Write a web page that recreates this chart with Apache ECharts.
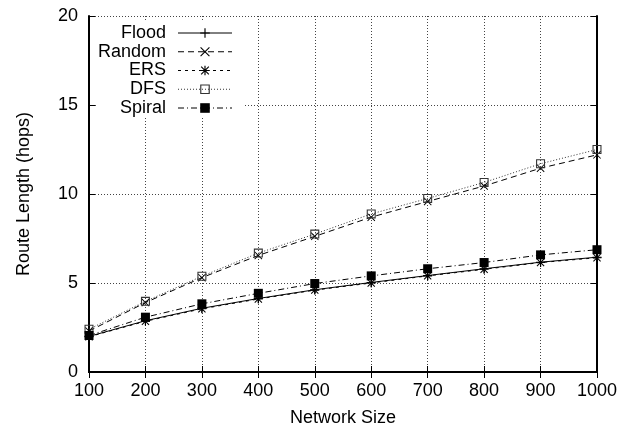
<!DOCTYPE html>
<html>
<head>
<meta charset="utf-8">
<script src="https://cdn.jsdelivr.net/npm/echarts@6/dist/echarts.min.js"></script>
<style>
  html, body { margin: 0; padding: 0; background: #fff; }
  #chart { width: 621px; height: 432px; }
</style>
</head>
<body>
<div id="chart"></div>
<script>
// Network sizes on the x axis
var networkSizes = [100, 200, 300, 400, 500, 600, 700, 800, 900, 1000];

// Average route length (hops) for each search strategy
var flood  = [2.00, 2.88, 3.58, 4.13, 4.62, 5.03, 5.42, 5.80, 6.17, 6.45];
var random = [2.30, 3.90, 5.30, 6.55, 7.62, 8.70, 9.58, 10.45, 11.45, 12.20];
var ers    = [1.98, 2.85, 3.55, 4.10, 4.60, 5.00, 5.40, 5.77, 6.15, 6.42];
var dfs    = [2.40, 3.97, 5.38, 6.68, 7.75, 8.88, 9.75, 10.65, 11.70, 12.50];
var spiral = [2.05, 3.08, 3.83, 4.42, 4.97, 5.40, 5.80, 6.15, 6.58, 6.87];

var seriesNames = ['Flood', 'Random', 'ERS', 'DFS', 'Spiral'];

function pairs(ys) {
  return networkSizes.map(function (x, i) { return [x, ys[i]]; });
}

// Point markers drawn as filled paths
var plusPath = 'path://M4.4,0H5.6V10H4.4ZM0,4.4H10V5.6H0Z';
var crossPath = 'path://M0,0.8L0.8,0L10,9.2L9.2,10ZM9.2,0L10,0.8L0.8,10L0,9.2Z';
var starPath = 'path://M4.4,0H5.6V10H4.4ZM0,4.4H10V5.6H0ZM0.6,1.4L1.4,0.6L9.4,8.6L8.6,9.4ZM8.6,0.6L9.4,1.4L1.4,9.4L0.6,8.6Z';
var boxPath = 'path://M0,0H10V10H0ZM1.2,1.2V8.8H8.8V1.2Z';

function lineSeries(name, data, dash, symbol, size, color) {
  return {
    name: name,
    type: 'line',
    data: pairs(data),
    symbol: symbol,
    symbolSize: size,
    showAllSymbol: true,
    animation: false,
    itemStyle: { color: color, opacity: 1 },
    lineStyle: { color: color, width: 1, type: dash }
  };
}

var chart = echarts.init(document.getElementById('chart'), null, { renderer: 'canvas' });

var fontFamily = 'Liberation Sans, Arial, Helvetica, sans-serif';
var gridLine = { show: true, lineStyle: { color: '#444', width: 1, type: [1, 2] } };
var frameLine = { show: true, lineStyle: { color: '#000', width: 2 } };
var innerTick = { show: true, inside: true, length: 6, lineStyle: { color: '#000', width: 1 } };
var plainNumber = function (v) { return String(v); };

chart.setOption({
  backgroundColor: '#fff',
  textStyle: { fontFamily: fontFamily },
  grid: { left: 89, right: 24, top: 16, bottom: 58, containLabel: false },
  legend: {
    orient: 'vertical',
    left: 97,
    top: 22,
    padding: [2, 11, 0, 0],
    backgroundColor: '#fff',
    itemWidth: 54,
    itemHeight: 12,
    itemGap: 0.75,
    align: 'right',
    data: seriesNames,
    lineStyle: { width: 1 },
    formatter: function (name) { return '{t|' + name + '}'; },
    textStyle: {
      color: '#000',
      fontSize: 18,
      rich: { t: { width: 69, align: 'right', fontSize: 18, lineHeight: 18, padding: [0, 7, 0, 0], fontFamily: fontFamily } }
    }
  },
  xAxis: [{
    type: 'value',
    min: 100, max: 1000, interval: 100,
    name: 'Network Size',
    nameLocation: 'middle',
    nameGap: 37,
    nameTextStyle: { fontSize: 18, color: '#000' },
    axisLine: frameLine,
    axisTick: innerTick,
    axisLabel: { fontSize: 18, color: '#000', margin: 10, formatter: plainNumber },
    splitLine: gridLine
  }, {
    type: 'value',
    position: 'top',
    min: 100, max: 1000, interval: 100,
    axisLine: frameLine,
    axisTick: innerTick,
    axisLabel: { show: false },
    splitLine: { show: false }
  }],
  yAxis: [{
    type: 'value',
    min: 0, max: 20, interval: 5,
    name: 'Route Length (hops)',
    nameLocation: 'middle',
    nameGap: 56,
    nameTextStyle: { fontSize: 18, color: '#000' },
    axisLine: frameLine,
    axisTick: innerTick,
    axisLabel: { fontSize: 18, color: '#000', margin: 11, formatter: plainNumber },
    splitLine: gridLine
  }, {
    type: 'value',
    position: 'right',
    min: 0, max: 20, interval: 5,
    axisLine: frameLine,
    axisTick: innerTick,
    axisLabel: { show: false },
    splitLine: { show: false }
  }],
  series: [
    lineSeries('Flood', flood, 'solid', plusPath, 9, '#000'),
    lineSeries('Random', random, [6, 4], crossPath, 8, '#000'),
    lineSeries('ERS', ers, [3, 4], starPath, 9, '#000'),
    lineSeries('DFS', dfs, [1, 2], boxPath, 9, '#333'),
    lineSeries('Spiral', spiral, [6, 3, 1, 3], 'rect', 9, '#000')
  ]
});
</script>
</body>
</html>
